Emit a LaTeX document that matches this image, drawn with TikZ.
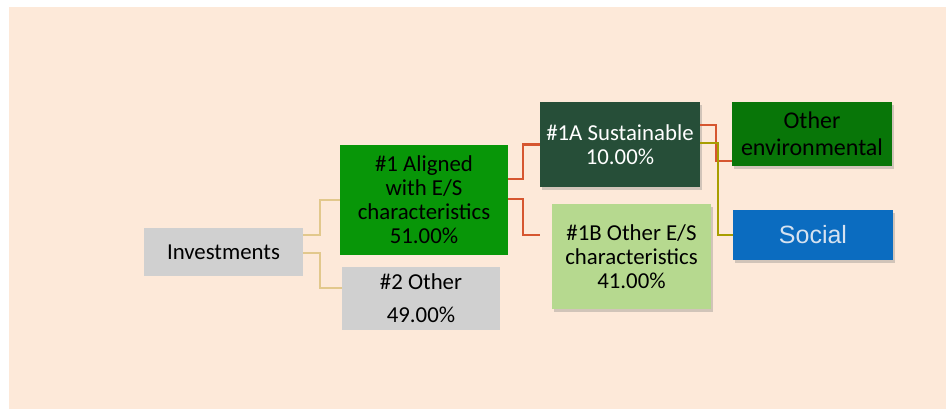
\documentclass[tikz,border=0pt]{standalone}
\usepackage{fontspec}
\setmainfont{Carlito}
\newfontfamily\arialfont{Liberation Sans}
\usetikzlibrary{calc,shadows}
\definecolor{bgpeach}{RGB}{253,233,217}
\definecolor{boxgray}{RGB}{208,208,208}
\definecolor{brightgreen}{RGB}{8,150,8}
\definecolor{darkgreen}{RGB}{38,78,56}
\definecolor{lightgreen}{RGB}{182,217,143}
\definecolor{envgreen}{RGB}{8,118,8}
\definecolor{socblue}{RGB}{11,108,192}
\definecolor{soctext}{RGB}{214,226,240}
\definecolor{tanline}{RGB}{226,200,140}
\definecolor{redline}{RGB}{214,86,48}
\definecolor{oliveline}{RGB}{168,158,0}
\tikzset{
  boxstyle/.style={rectangle, inner sep=0pt, align=center, font=\fontsize{22.8}{24}\selectfont},
  shadowed/.style={drop shadow={opacity=0.35, shadow xshift=1.5pt, shadow yshift=-3pt}},
  tanconn/.style={draw=tanline, line width=1.8pt},
  redconn/.style={draw=redline, line width=2.2pt},
  oliveconn/.style={draw=oliveline, line width=2.2pt}
}
\begin{document}
\begin{tikzpicture}[x=1pt,y=1pt]
\useasboundingbox (0,0) rectangle (946,409);
\fill[white] (0,0) rectangle (946,409);
\fill[bgpeach] (9,0) rectangle (946,402);
% nodes
\node[boxstyle, fill=boxgray, minimum width=159pt, minimum height=48pt] (inv) at (223.5,157) {Investments};
\node[boxstyle, fill=brightgreen, minimum width=168pt, minimum height=110pt] (a1) at (424,209) {\#1 Aligned\\with E/S\\characteristics\\51.00\%};
\node[boxstyle, fill=boxgray, minimum width=158pt, minimum height=63pt] (o2) at (421,110.5) {\#2 Other\\[9pt]49.00\%};
\node[boxstyle, shadowed, fill=darkgreen, text=white, minimum width=160pt, minimum height=85pt] (s1a) at (620,264.5) {\#1A Sustainable\\10.00\%};
\node[boxstyle, shadowed, fill=lightgreen, minimum width=159pt, minimum height=105pt] (b1b) at (631.5,152.5) {\#1B Other E/S\\characteristics\\41.00\%};
\node[boxstyle, shadowed, fill=envgreen, minimum width=160pt, minimum height=64pt, font=\fontsize{24}{27}\selectfont] (env) at (812,275) {Other\\environmental};
\node[boxstyle, shadowed, fill=socblue, text=soctext, minimum width=160pt, minimum height=50pt, font=\arialfont\fontsize{25}{28}\selectfont] (soc) at (813,174) {Social};
% connectors
\draw[tanconn] ([yshift=17pt]inv.east) -- ++(17,0) |- (a1.west);
\draw[tanconn] ([yshift=-1pt]inv.east) -- ++(17,0) |- ([yshift=10.5pt]o2.west);
\draw[redconn] ([yshift=21pt]a1.east) -- ++(15,0) |- (s1a.west);
\draw[redconn, shorten >=12pt] ([yshift=1pt]a1.east) -- ++(15,0) |- ([yshift=21.5pt]b1b.west);
\draw[redconn] ([yshift=19.5pt]s1a.east) -- ++(16,0) |- ([yshift=-27pt]env.west);
\draw[oliveconn] ([yshift=1.5pt]s1a.east) -- ++(18,0) |- (soc.west);
\end{tikzpicture}
\end{document}
